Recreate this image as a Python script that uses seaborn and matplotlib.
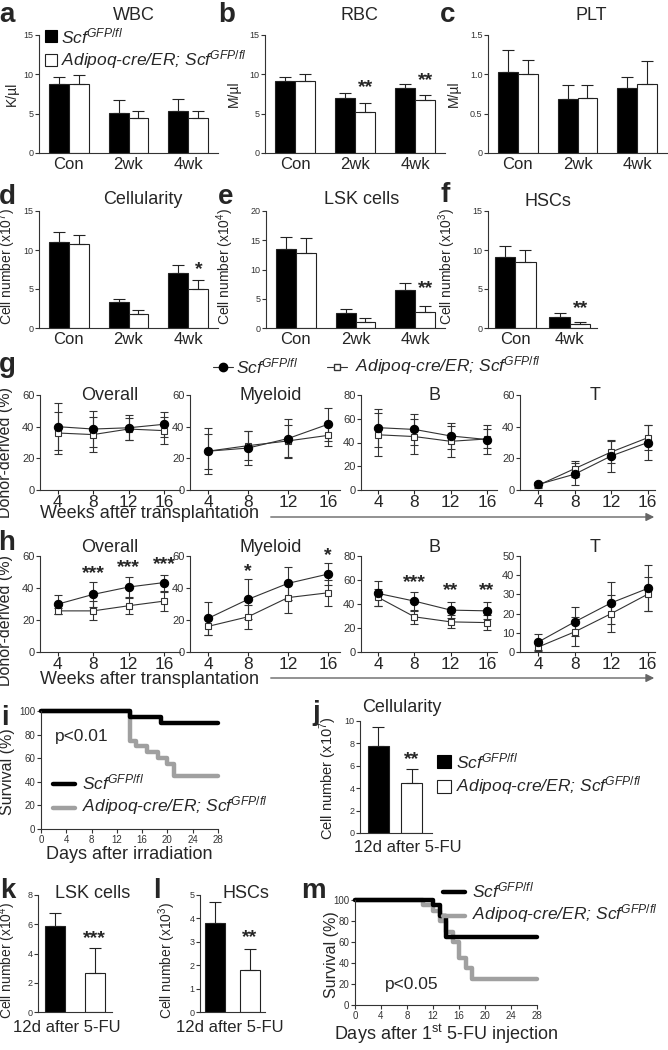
import numpy as np
import pandas as pd
import matplotlib
matplotlib.use("Agg")
import matplotlib.pyplot as plt
from matplotlib.patches import FancyArrowPatch
import seaborn as sns

# ---------------- data ----------------
groups3 = ["Con", "2wk", "4wk"]
groups2 = ["Con", "4wk"]
weeks = [4, 8, 12, 16]

# a-c blood counts: mean and upper error
wbc_ctrl, wbc_ctrl_err = [8.8, 5.1, 5.4], [0.9, 1.6, 1.5]
wbc_cko, wbc_cko_err = [8.8, 4.4, 4.4], [1.1, 0.9, 1.0]
rbc_ctrl, rbc_ctrl_err = [9.1, 7.0, 8.3], [0.5, 0.6, 0.5]
rbc_cko, rbc_cko_err = [9.1, 5.2, 6.7], [0.9, 1.1, 0.7]
plt_ctrl, plt_ctrl_err = [1.03, 0.69, 0.83], [0.28, 0.18, 0.14]
plt_cko, plt_cko_err = [1.00, 0.70, 0.88], [0.18, 0.16, 0.29]

# d-f bone marrow
cell_ctrl, cell_ctrl_err = [11.0, 3.3, 7.0], [1.3, 0.4, 1.1]
cell_cko, cell_cko_err = [10.8, 1.8, 5.0], [1.1, 0.5, 1.2]
lsk_ctrl, lsk_ctrl_err = [13.5, 2.6, 6.5], [2.0, 0.6, 1.2]
lsk_cko, lsk_cko_err = [12.8, 1.1, 2.8], [2.6, 0.6, 1.0]
hsc_ctrl, hsc_ctrl_err = [9.1, 1.4], [1.4, 0.5]
hsc_cko, hsc_cko_err = [8.4, 0.5], [1.6, 0.3]

# g transplantation (first set)
g_overall_ctrl, g_overall_ctrl_err = [40.0, 38.5, 39.3, 41.5], [15, 11.5, 8, 8]
g_overall_cko, g_overall_cko_err = [36.0, 35.0, 38.5, 37.5], [13, 11, 7, 8.5]
g_myeloid_ctrl, g_myeloid_ctrl_err = [24.5, 26.5, 32.5, 41.5], [14.5, 11, 12.5, 10.5]
g_myeloid_cko, g_myeloid_cko_err = [24.5, 28.0, 31.0, 34.5], [11, 9, 10, 7]
g_b_ctrl, g_b_ctrl_err = [52.5, 51.0, 45.5, 42.5], [16, 13, 11, 12]
g_b_cko, g_b_cko_err = [46.5, 45.0, 41.0, 43.0], [18, 15, 13, 8]
g_t_ctrl, g_t_ctrl_err = [3.5, 10.0, 21.5, 30.0], [1.5, 7, 10, 11]
g_t_cko, g_t_cko_err = [3.0, 13.5, 24.0, 33.0], [1.5, 5, 7, 8]

# h transplantation (second set)
h_overall_ctrl, h_overall_ctrl_err = [29.9, 36.0, 40.6, 43.4], [6, 8, 6.5, 5]
h_overall_cko, h_overall_cko_err = [25.7, 25.7, 28.9, 31.8], [2, 6, 5, 6]
h_myeloid_ctrl, h_myeloid_ctrl_err = [21.0, 32.9, 42.9, 48.7], [10.5, 12.5, 10.5, 7]
h_myeloid_cko, h_myeloid_cko_err = [16.0, 22.0, 34.0, 37.0], [5.5, 7.5, 9.5, 8]
h_b_ctrl, h_b_ctrl_err = [48.8, 42.4, 34.9, 34.3], [10.5, 8, 6.5, 7]
h_b_cko, h_b_cko_err = [45.5, 29.3, 25.1, 24.5], [7, 6, 5.5, 6.5]
h_t_ctrl, h_t_ctrl_err = [5.2, 15.7, 25.6, 33.1], [4, 7.5, 11, 12]
h_t_cko, h_t_cko_err = [2.6, 10.5, 20.0, 30.1], [2, 7.5, 9.5, 9]

# i survival after irradiation
i_ctrl_days = [0, 14, 19, 28]
i_ctrl_surv = [100, 95, 90, 90]
i_cko_days = [0, 14, 15, 16.7, 18.5, 20, 21, 28]
i_cko_surv = [100, 75, 70, 65, 60, 55, 45, 45]

# j-l after 5-FU (ctrl, cko)
j_cell, j_cell_err = [7.8, 4.5], [1.7, 1.2]
k_lsk, k_lsk_err = [5.9, 2.7], [0.9, 1.7]
l_hsc, l_hsc_err = [3.8, 1.8], [0.9, 0.9]

# m survival after 5-FU
m_ctrl_days = [0, 12, 13, 14, 28]
m_ctrl_surv = [100, 95, 85, 65, 65]
m_cko_days = [0, 10.5, 12, 13, 14, 15, 16, 17, 18, 28]
m_cko_surv = [100, 95, 90, 80, 70, 60, 45, 35, 25, 25]

ctrl_label = r"Scf$^{GFP/fl}$"
cko_label = r"Adipoq-cre/ER; Scf$^{GFP/fl}$"

# ---------------- style ----------------
sns.set_theme(style="ticks")
plt.rcParams["font.family"] = ["Liberation Sans", "DejaVu Sans"]
plt.rcParams["mathtext.fontset"] = "custom"
plt.rcParams["mathtext.rm"] = "Liberation Sans"
plt.rcParams["mathtext.it"] = "Liberation Sans:italic"
plt.rcParams["axes.linewidth"] = 0.8
plt.rcParams["axes.edgecolor"] = "#333333"

W, H = 668, 1050
fig = plt.figure(figsize=(W / 100, H / 100), dpi=100)
fig.patch.set_facecolor("white")


def fx(x):
    return x / W


def fy(y):
    return 1 - y / H


def add_ax(x0, y0, x1, y1):
    ax = fig.add_axes([fx(x0), fy(y1), fx(x1 - x0), (y1 - y0) / H])
    sns.despine(ax=ax)
    return ax


def ftext(x, y, s, **kw):
    kw.setdefault("ha", "center")
    kw.setdefault("va", "center")
    fig.text(fx(x), fy(y), s, **kw)


def ylab(ax, text, x, y, size):
    # x is the centre of the rotated label in pixels
    ax.set_ylabel(text, fontsize=size)
    ax.yaxis.set_label_coords(fx(x + size * 0.55), fy(y), transform=fig.transFigure)


def bar_panel(ax, cats, ctrl, ctrl_err, cko, cko_err, ylim, yticks, width=0.67):
    n = len(cats)
    df = pd.DataFrame({"group": cats * 2, "val": ctrl + cko,
                       "geno": ["ctrl"] * n + ["cko"] * n})
    sns.barplot(data=df, x="group", y="val", hue="geno", hue_order=["ctrl", "cko"],
                palette={"ctrl": "black", "cko": "white"}, saturation=1,
                edgecolor="#222222", linewidth=0.8, width=width, gap=0,
                errorbar=None, legend=False, ax=ax)
    x = np.arange(n)
    off = width / 4
    for xs, m, e in [(x - off, ctrl, ctrl_err), (x + off, cko, cko_err)]:
        ax.errorbar(xs, m, yerr=[np.zeros(n), e], fmt="none", ecolor="#222222",
                    elinewidth=0.8, capsize=4, capthick=0.8, zorder=1)
    ax.set_xlim(-0.5, n - 0.5)
    ax.set_ylim(*ylim)
    ax.set_yticks(yticks)
    ax.set_xlabel("")
    ax.tick_params(axis="x", length=0, labelsize=12, pad=3)
    ax.tick_params(axis="y", length=3, width=0.8, labelsize=6.5, pad=1, colors="#333333")


def pair_panel(ax, vals, errs, ylim, yticks, xlim, width):
    sns.barplot(x=["ctrl", "cko"], y=vals, hue=["ctrl", "cko"],
                palette={"ctrl": "black", "cko": "white"}, saturation=1,
                edgecolor="#222222", linewidth=0.8, width=width,
                errorbar=None, legend=False, ax=ax)
    ax.errorbar([0, 1], vals, yerr=[[0, 0], errs], fmt="none", ecolor="#222222",
                elinewidth=0.8, capsize=4, capthick=0.8, zorder=1)
    ax.set_xlim(*xlim)
    ax.set_ylim(*ylim)
    ax.set_yticks(yticks)
    ax.set_xticks([])
    ax.tick_params(axis="y", length=3, width=0.8, labelsize=6.5, pad=1, colors="#333333")


def stars(ax, x, y, s, size=14):
    ax.text(x, y, s, ha="center", va="center", fontsize=size, fontweight="bold")


def line_panel(ax, ctrl, ctrl_err, cko, cko_err, ylim, yticks, xlim):
    ax.errorbar(weeks, cko, yerr=cko_err, fmt="none", ecolor="#333333",
                elinewidth=0.8, capsize=3, capthick=0.8)
    ax.errorbar(weeks, ctrl, yerr=ctrl_err, fmt="none", ecolor="#333333",
                elinewidth=0.8, capsize=3, capthick=0.8)
    sns.lineplot(x=weeks, y=cko, marker="s", color="#333333", lw=0.8,
                 markerfacecolor="white", markeredgecolor="#333333", markersize=5,
                 markeredgewidth=0.8, ax=ax)
    sns.lineplot(x=weeks, y=ctrl, marker="o", color="#333333", lw=0.8,
                 markerfacecolor="black", markeredgecolor="black", markersize=6, ax=ax)
    ax.set_xlim(*xlim)
    ax.set_ylim(*ylim)
    ax.set_xticks(weeks)
    ax.set_yticks(yticks)
    ax.tick_params(axis="x", length=3, width=0.8, labelsize=12.5, pad=0.5)
    ax.tick_params(axis="y", length=3, width=0.8, labelsize=8, pad=1, colors="#333333")


def surv_panel(ax, cd, cs, kd, ks):
    sns.lineplot(x=kd, y=ks, drawstyle="steps-post", color="#a0a0a0", lw=3.2,
                 ax=ax, clip_on=False)
    sns.lineplot(x=cd, y=cs, drawstyle="steps-post", color="black", lw=3.2,
                 ax=ax, clip_on=False)
    ax.set_xlim(0, 28)
    ax.set_ylim(0, 100)
    ax.set_xticks(range(0, 29, 4))
    ax.set_yticks(range(0, 101, 20))
    ax.tick_params(length=3, width=0.8, labelsize=7, pad=1, colors="#333333")


# ---------------- row 1: a-c ----------------
ax_a = add_ax(39, 35, 218, 153)
bar_panel(ax_a, groups3, wbc_ctrl, wbc_ctrl_err, wbc_cko, wbc_cko_err, (0, 15), [0, 5, 10, 15])
ylab(ax_a, "K/µl", 13, 94, 10)
ax_b = add_ax(265, 35, 445, 153)
bar_panel(ax_b, groups3, rbc_ctrl, rbc_ctrl_err, rbc_cko, rbc_cko_err, (0, 15), [0, 5, 10, 15])
ylab(ax_b, "M/µl", 235, 94, 10)
stars(ax_b, 1.17, 8.3, "**")
stars(ax_b, 2.17, 9.2, "**")
ax_c = add_ax(488, 35, 667, 153)
bar_panel(ax_c, groups3, plt_ctrl, plt_ctrl_err, plt_cko, plt_cko_err, (0, 1.5), [0, 0.5, 1.0, 1.5])
ax_c.set_yticklabels(["0", "0.5", "1.0", "1.5"])
ylab(ax_c, "M/µl", 455, 94, 10)

ftext(134, 16, "WBC", fontsize=13)
ftext(359, 16, "RBC", fontsize=13)
ftext(591, 16, "PLT", fontsize=13)

# legend of a
fig.patches.append(plt.Rectangle((fx(45), fy(42)), fx(12), 12 / H, transform=fig.transFigure,
                                 facecolor="black", edgecolor="black", lw=0.8))
fig.patches.append(plt.Rectangle((fx(45), fy(66)), fx(12), 12 / H, transform=fig.transFigure,
                                 facecolor="white", edgecolor="#222222", lw=0.8))
ftext(61, 36, ctrl_label, fontsize=12.5, style="italic", ha="left")
ftext(61, 60, cko_label, fontsize=12.5, style="italic", ha="left")

# ---------------- row 2: d-f ----------------
ax_d = add_ax(39, 211, 218, 328)
bar_panel(ax_d, groups3, cell_ctrl, cell_ctrl_err, cell_cko, cell_cko_err, (0, 15), [0, 5, 10, 15])
ylab(ax_d, r"Cell number (x10$^{\mathrm{7}}$)", 13, 266, 10)
stars(ax_d, 2.17, 7.5, "*")
ax_e = add_ax(266, 211, 445, 328)
bar_panel(ax_e, groups3, lsk_ctrl, lsk_ctrl_err, lsk_cko, lsk_cko_err, (0, 20), [0, 5, 10, 15, 20])
ylab(ax_e, r"Cell number (x10$^{\mathrm{4}}$)", 231, 266, 10)
stars(ax_e, 2.17, 6.8, "**")
ax_f = add_ax(488, 211, 597, 328)
bar_panel(ax_f, groups2, hsc_ctrl, hsc_ctrl_err, hsc_cko, hsc_cko_err, (0, 15), [0, 5, 10, 15], width=0.75)
ylab(ax_f, r"Cell number (x10$^{\mathrm{3}}$)", 453, 266, 10)
stars(ax_f, 1.19, 2.5, "**")

ftext(143, 200, "Cellularity", fontsize=13)
ftext(362, 200, "LSK cells", fontsize=13)
ftext(548, 201, "HSCs", fontsize=13)

# ---------------- row g ----------------
g_axes = [add_ax(40, 395, 180, 490), add_ax(190, 395, 340, 490),
          add_ax(361, 395, 497, 490), add_ax(520, 395, 655, 490)]
line_panel(g_axes[0], g_overall_ctrl, g_overall_ctrl_err, g_overall_cko, g_overall_cko_err,
           (0, 60), [0, 20, 40, 60], (2, 17.8))
line_panel(g_axes[1], g_myeloid_ctrl, g_myeloid_ctrl_err, g_myeloid_cko, g_myeloid_cko_err,
           (0, 60), [0, 20, 40, 60], (2.2, 17.2))
line_panel(g_axes[2], g_b_ctrl, g_b_ctrl_err, g_b_cko, g_b_cko_err,
           (0, 80), [0, 20, 40, 60, 80], (2.1, 17.1))
line_panel(g_axes[3], g_t_ctrl, g_t_ctrl_err, g_t_cko, g_t_cko_err,
           (0, 60), [0, 20, 40, 60], (2.0, 16.8))
for ax, t, x in zip(g_axes, ["Overall", "Myeloid", "B", "T"], [110, 271, 434, 595]):
    ftext(x, 395, t, fontsize=13)
ylab(g_axes[0], "Donor-derived (%)", 7, 452, 11.5)

# legend of g
fig.add_artist(plt.Line2D([fx(213), fx(233)], [fy(367), fy(367)], color="#333333", lw=0.8))
fig.add_artist(plt.Line2D([fx(223)], [fy(367)], color="black", marker="o", markersize=6, lw=0))
ftext(236, 366, ctrl_label, fontsize=12.5, style="italic", ha="left")
fig.add_artist(plt.Line2D([fx(327), fx(347)], [fy(367), fy(367)], color="#333333", lw=0.8))
fig.add_artist(plt.Line2D([fx(337)], [fy(367)], color="#333333", marker="s", markersize=5,
                          markerfacecolor="white", lw=0))
ftext(355, 366, cko_label, fontsize=12.5, style="italic", ha="left")

ftext(40, 513, "Weeks after transplantation", fontsize=13, ha="left")
fig.add_artist(FancyArrowPatch((fx(268), fy(517)), (fx(657), fy(517)), transform=fig.transFigure,
                               arrowstyle="-|>", mutation_scale=12, color="#666666", lw=1))

# ---------------- row h ----------------
h_axes = [add_ax(40, 556, 180, 652), add_ax(190, 556, 340, 652),
          add_ax(361, 556, 497, 652), add_ax(520, 556, 655, 652)]
line_panel(h_axes[0], h_overall_ctrl, h_overall_ctrl_err, h_overall_cko, h_overall_cko_err,
           (0, 60), [0, 20, 40, 60], (2, 17.8))
line_panel(h_axes[1], h_myeloid_ctrl, h_myeloid_ctrl_err, h_myeloid_cko, h_myeloid_cko_err,
           (0, 60), [0, 20, 40, 60], (2.2, 17.2))
line_panel(h_axes[2], h_b_ctrl, h_b_ctrl_err, h_b_cko, h_b_cko_err,
           (0, 80), [0, 20, 40, 60, 80], (2.1, 17.1))
line_panel(h_axes[3], h_t_ctrl, h_t_ctrl_err, h_t_cko, h_t_cko_err,
           (0, 50), [0, 10, 20, 30, 40, 50], (2.0, 16.8))
for ax, t, x in zip(h_axes, ["Overall", "Myeloid", "B", "T"], [110, 271, 434, 595]):
    ftext(x, 548, t, fontsize=13)
ylab(h_axes[0], "Donor-derived (%)", 7, 621, 11.5)
for w, y in zip([8, 12, 16], [49, 53, 54.5]):
    stars(h_axes[0], w, y, "***")
stars(h_axes[1], 8, 50, "*")
stars(h_axes[1], 16, 60, "*")
stars(h_axes[2], 8, 58, "***")
stars(h_axes[2], 12, 51, "**")
stars(h_axes[2], 16, 51, "**")

ftext(40, 680, "Weeks after transplantation", fontsize=13, ha="left")
fig.add_artist(FancyArrowPatch((fx(268), fy(678)), (fx(657), fy(678)), transform=fig.transFigure,
                               arrowstyle="-|>", mutation_scale=12, color="#666666", lw=1))

# ---------------- row i / j ----------------
ax_i = add_ax(41, 711, 218, 829)
surv_panel(ax_i, i_ctrl_days, i_ctrl_surv, i_cko_days, i_cko_surv)
ax_i.set_xlabel("Days after irradiation", fontsize=13, labelpad=1)
ylab(ax_i, "Survival (%)", 9, 772, 11.5)
ftext(55, 737, "p<0.01", fontsize=12.5, ha="left")
fig.add_artist(plt.Line2D([fx(53), fx(75)], [fy(784), fy(784)], color="black", lw=3.2))
fig.add_artist(plt.Line2D([fx(53), fx(75)], [fy(808), fy(808)], color="#a0a0a0", lw=3.2))
ftext(82, 782, ctrl_label, fontsize=12.5, style="italic", ha="left")
ftext(82, 806, cko_label, fontsize=12.5, style="italic", ha="left")

ax_j = add_ax(360, 721, 432, 833)
pair_panel(ax_j, j_cell, j_cell_err, (0, 10), [0, 2, 4, 6, 8, 10], (-0.56, 1.62), 0.64)
ylab(ax_j, r"Cell number (x10$^{\mathrm{7}}$)", 333, 778, 10.5)
stars(ax_j, 1, 6.6, "**")
ftext(362, 707, "Cellularity", fontsize=13, ha="left")
ftext(408, 847, "12d after 5-FU", fontsize=12)
fig.patches.append(plt.Rectangle((fx(437), fy(768)), fx(14), 13 / H, transform=fig.transFigure,
                                 facecolor="black", edgecolor="black", lw=0.8))
fig.patches.append(plt.Rectangle((fx(437), fy(793)), fx(14), 13 / H, transform=fig.transFigure,
                                 facecolor="white", edgecolor="#222222", lw=0.8))
ftext(456, 761, ctrl_label, fontsize=12.5, style="italic", ha="left")
ftext(456, 786, cko_label, fontsize=12.5, style="italic", ha="left")

# ---------------- row k / l / m ----------------
ax_k = add_ax(38, 895, 112, 1012)
pair_panel(ax_k, k_lsk, k_lsk_err, (0, 8), [0, 2, 4, 6, 8], (-0.43, 1.43), 0.5)
ylab(ax_k, r"Cell number (x10$^{\mathrm{4}}$)", 13, 960, 10)
stars(ax_k, 1, 5.0, "***")
ftext(55, 894, "LSK cells", fontsize=13, ha="left")
ftext(67, 1027, "12d after 5-FU", fontsize=12)

ax_l = add_ax(200, 895, 265, 1012)
pair_panel(ax_l, l_hsc, l_hsc_err, (0, 5), [0, 1, 2, 3, 4, 5], (-0.43, 1.43), 0.57)
ylab(ax_l, r"Cell number (x10$^{\mathrm{3}}$)", 172, 960, 10)
stars(ax_l, 1, 3.2, "**")
ftext(222, 894, "HSCs", fontsize=13, ha="left")
ftext(230, 1027, "12d after 5-FU", fontsize=12)

ax_m = add_ax(355, 900, 537, 1005)
surv_panel(ax_m, m_ctrl_days, m_ctrl_surv, m_cko_days, m_cko_surv)
ax_m.set_xlabel(r"Days after 1$^{\mathrm{st}}$ 5-FU injection", fontsize=13, labelpad=1)
ylab(ax_m, "Survival (%)", 333, 955, 11.5)
ftext(385, 985, "p<0.05", fontsize=12.5, ha="left")
fig.add_artist(plt.Line2D([fx(443), fx(465)], [fy(892), fy(892)], color="black", lw=3.2))
fig.add_artist(plt.Line2D([fx(443), fx(465)], [fy(916), fy(916)], color="#a0a0a0", lw=3.2))
ftext(472, 890, ctrl_label, fontsize=12.5, style="italic", ha="left")
ftext(472, 914, cko_label, fontsize=12.5, style="italic", ha="left")

# ---------------- panel letters ----------------
for letter, x, y in [("a", 7, 15), ("b", 227, 15), ("c", 448, 15),
                     ("d", 7, 197), ("e", 226, 197), ("f", 445, 195),
                     ("g", 7, 365), ("h", 7, 543), ("i", 5, 718), ("j", 316, 713),
                     ("k", 8, 891), ("l", 157, 891), ("m", 313, 891)]:
    ftext(x, y, letter, fontsize=20, fontweight="bold")

fig.savefig("out.png", dpi=100, facecolor="white")
